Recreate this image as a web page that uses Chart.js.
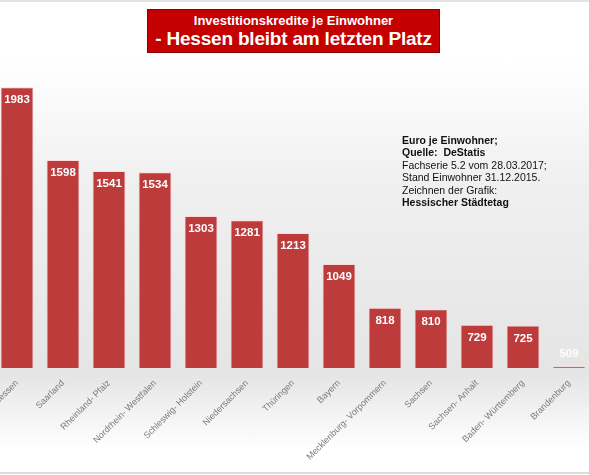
<!DOCTYPE html>
<html>
<head>
<meta charset="utf-8">
<script src="https://cdn.jsdelivr.net/npm/chart.js@4/dist/chart.umd.min.js"></script>
<style>
    html, body { margin: 0; padding: 0; }
    body {
        width: 589px; height: 475px; overflow: hidden; position: relative;
        font-family: Arial, "Liberation Sans", sans-serif;
        background: linear-gradient(to bottom, #ffffff 0px, #ffffff 60px, #f0f0f0 180px, #e7e7e7 330px, #e5e5e5 375px, #f5f5f5 420px, #ffffff 450px);
    }
    #topline { position: absolute; left: 0; top: 0; width: 589px; height: 2px; background: #e2e2e2; }
    #botline { position: absolute; left: 0; top: 472px; width: 589px; height: 2px; background: #dcdcdc; }
    #wrap { position: absolute; left: -6px; top: 0; width: 598px; height: 475px; }
    #title {
        position: absolute; left: 147px; top: 9px; width: 291px; height: 42px;
        background: #c40000; border: 1px solid #8a0000; color: #fff; text-align: center;
        font-weight: bold;
    }
    #title .l1 { font-size: 13px; line-height: 15px; margin-top: 3px; }
    #title .l2 { font-size: 19px; line-height: 21px; letter-spacing: -0.2px; }
    #note {
        position: absolute; left: 402px; top: 134px; font-size: 10.5px; line-height: 12.4px; color: #111;
    }
    #note b { font-weight: bold; }
</style>
</head>
<body>
<div id="topline"></div>
<div id="botline"></div>
<div id="wrap"><canvas id="barChart"></canvas></div>
<div id="title">
    <div class="l1">Investitionskredite je Einwohner</div>
    <div class="l2">- Hessen bleibt am letzten Platz</div>
</div>
<div id="note">
    <b>Euro je Einwohner;</b><br>
    <b>Quelle:&nbsp; DeStatis</b><br>
    Fachserie 5.2 vom 28.03.2017;<br>
    Stand Einwohner 31.12.2015.<br>
    Zeichnen der Grafik:<br>
    <b>Hessischer Städtetag</b>
</div>
<script>
    // Euro je Einwohner
    var laender = ['Hessen', 'Saarland', 'Rheinland- Pfalz', 'Nordrhein- Westfalen', 'Schleswig- Holstein',
        'Niedersachsen', 'Thüringen', 'Bayern', 'Mecklenburg- Vorpommern', 'Sachsen',
        'Sachsen- Anhalt', 'Baden- Württemberg', 'Brandenburg'];
    var kredite = [1983, 1598, 1541, 1534, 1303, 1281, 1213, 1049, 818, 810, 729, 725, 509];
    var yMin = 500;
    var yMax = 2000;

    // Werte oben in den Balken
    var valueLabels = {
        id: 'valueLabels',
        afterDatasetsDraw: function (chart) {
            var ctx = chart.ctx;
            var meta = chart.getDatasetMeta(0);
            var bottom = chart.scales.y.getPixelForValue(yMin);
            ctx.save();
            ctx.font = 'bold 11.5px Arial';
            ctx.textAlign = 'center';
            ctx.textBaseline = 'middle';
            meta.data.forEach(function (bar, i) {
                var h = bottom - bar.y;
                var y = h > 25 ? bar.y + 13 : bar.y - 12;
                ctx.fillStyle = h > 25 ? '#ffffff' : 'rgba(255,255,255,0.9)';
                ctx.fillText(kredite[i], bar.x, y);
            });
            ctx.restore();
        }
    };

    var ctx = document.getElementById('barChart').getContext('2d');
    var chart = new Chart(ctx, {
        type: 'bar',
        data: {
            labels: laender,
            datasets: [{
                data: kredite,
                backgroundColor: function (c) {
                    var el = c.element;
                    if (!el || el.x === undefined) return '#bd3b3b';
                    var g = c.chart.ctx.createLinearGradient(el.x - el.width / 2, 0, el.x + el.width / 2, 0);
                    g.addColorStop(0, '#b03434');
                    g.addColorStop(0.5, '#c24141');
                    g.addColorStop(1, '#a52d2d');
                    return g;
                },
                borderColor: 'rgba(255,215,215,0.9)',
                borderWidth: 1,
                categoryPercentage: 0.8,
                barPercentage: 0.9
            }]
        },
        options: {
            responsive: true,
            maintainAspectRatio: false,
            animation: false,
            layout: { padding: { top: 84, left: 0, right: 0, bottom: 0 } },
            plugins: {
                legend: { display: false },
                tooltip: { enabled: false }
            },
            scales: {
                x: {
                    grid: { display: false },
                    border: { display: false },
                    ticks: {
                        minRotation: 45,
                        maxRotation: 45,
                        autoSkip: false,
                        padding: 2,
                        color: '#7a7a7a',
                        font: { family: 'Arial', size: 9 }
                    },
                    afterFit: function (scale) {
                        scale.height = 107;
                        scale.paddingLeft = 0;
                        scale.paddingRight = 0;
                    }
                },
                y: {
                    display: false,
                    min: yMin,
                    max: yMax
                }
            }
        },
        plugins: [valueLabels]
    });
</script>
</body>
</html>
